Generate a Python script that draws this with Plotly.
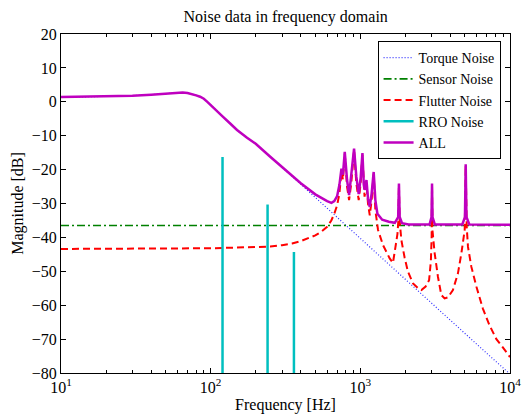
import plotly.graph_objects as go

# ---------------- data ----------------
torque_freq = [10, 20, 30, 40, 50, 60, 65, 70, 75, 80, 85, 90, 95, 100, 110, 120,
               135, 150, 175, 200, 250, 300, 400, 500, 600, 700, 1000, 2000, 3000,
               5000, 7000, 10000]
torque_db = [1.3, 1.5, 1.8, 2.1, 2.4, 2.7, 2.75, 2.6, 2.3, 1.9, 1.5, 0.9, 0.0,
             -1.0, -2.7, -4.3, -6.4, -8.3, -10.6, -12.4, -16.2, -19.3, -24.3, -28.2,
             -31.4, -34.1, -40.3, -52.3, -59.4, -68.3, -74.2, -80.3]

sensor_freq = [10, 10000]
sensor_db = [-36.5, -36.5]

flutter_freq = [10, 20, 40, 70, 100, 150, 200, 250, 300, 350, 400, 450, 500, 550,
                600, 640, 670, 700, 725, 748, 765, 787, 815, 841, 870, 908, 940,
                975, 1005, 1033, 1055, 1067, 1099, 1125, 1156, 1190, 1228, 1260,
                1313, 1418, 1571, 1652, 1714, 1770, 1795, 1811, 1830, 1880, 1977,
                2080, 2250, 2430, 2560, 2730, 2880, 2960, 2995, 3013, 3035, 3138,
                3300, 3475, 3656, 3850, 4156, 4490, 4732, 4980, 5058, 5140, 5240,
                5520, 5960, 6590, 7310, 8110, 8980, 10000]
flutter_db = [-43.4, -43.4, -43.3, -43.2, -43.2, -43.0, -42.9, -42.7, -42.3, -41.8,
              -41.1, -40.3, -39.4, -38.3, -36.9, -35.0, -33.0, -30.5, -27.0, -20.5,
              -23.0, -15.3, -25.0, -29.0, -24.0, -14.3, -24.0, -29.0, -24.0, -15.6,
              -26.0, -28.0, -24.0, -30.0, -33.5, -29.0, -21.2, -32.0, -37.8, -42.3,
              -46.2, -47.5, -43.0, -39.0, -35.0, -24.5, -35.0, -40.8, -46.0, -50.1,
              -53.6, -55.0, -55.5, -54.5, -52.6, -47.0, -40.0, -24.5, -38.0, -44.7,
              -51.6, -57.0, -58.0, -57.7, -55.5, -50.6, -44.7, -37.8, -18.8, -37.0,
              -42.8, -48.7, -54.5, -61.0, -66.0, -70.0, -72.5, -75.3]

rro_freq = [120, 240, 360]
rro_db = [-16.3, -30.3, -44.3]
rro_floor_db = -100

all_freq = [10, 20, 30, 40, 50, 60, 65, 70, 75, 80, 85, 90, 95, 100, 110, 120, 135,
            150, 175, 200, 250, 300, 400, 500, 560, 600, 641, 670, 700, 725, 748,
            765, 787, 815, 841, 870, 908, 940, 975, 1005, 1033, 1055, 1067, 1099,
            1125, 1156, 1190, 1228, 1260, 1300, 1400, 1550, 1700, 1790, 1811, 1832,
            1900, 2100, 2900, 2990, 3013, 3036, 3150, 4800, 5000, 5058, 5117, 5350,
            10000]
all_db = [1.4, 1.6, 1.8, 2.1, 2.4, 2.7, 2.75, 2.6, 2.3, 1.9, 1.5, 0.9, 0.0, -1.0,
          -2.7, -4.3, -6.4, -8.3, -10.6, -12.4, -16.2, -19.3, -24.0, -27.3, -28.6,
          -29.3, -29.8, -29.3, -27.8, -24.5, -19.7, -21.5, -14.8, -23.0, -27.5,
          -22.0, -13.8, -22.0, -27.2, -22.5, -15.1, -24.5, -26.0, -23.1, -28.5,
          -31.0, -27.0, -20.7, -29.0, -33.0, -34.8, -35.4, -35.7, -34.0, -24.1,
          -34.0, -35.8, -36.2, -36.2, -34.0, -24.1, -34.0, -36.2, -36.2, -34.0,
          -18.4, -34.0, -36.2, -36.3]

x_tick_vals = [10, 100, 1000, 10000]
x_tick_text = ["10<sup>1</sup>", "10<sup>2</sup>", "10<sup>3</sup>", "10<sup>4</sup>"]
y_tick_vals = [20, 10, 0, -10, -20, -30, -40, -50, -60, -70, -80]

# ---------------- figure ----------------
FONT = "Liberation Serif"
FS = 16

rro_x, rro_y = [], []
for f, v in zip(rro_freq, rro_db):
    rro_x += [f, f, None]
    rro_y += [rro_floor_db, v, None]

fig = go.Figure()
fig.add_trace(go.Scatter(x=torque_freq, y=torque_db, mode="lines", name="Torque Noise",
                         line=dict(color="#3030FF", width=1.2, dash="1px,2px")))
fig.add_trace(go.Scatter(x=sensor_freq, y=sensor_db, mode="lines", name="Sensor Noise",
                         line=dict(color="#008000", width=1.6, dash="8px,3px,2px,3px")))
fig.add_trace(go.Scatter(x=flutter_freq, y=flutter_db, mode="lines", name="Flutter Noise",
                         line=dict(color="#FF0000", width=2, dash="7px,4px")))
fig.add_trace(go.Scatter(x=rro_x, y=rro_y, mode="lines", name="RRO Noise",
                         line=dict(color="#00BFBF", width=2.5)))
fig.add_trace(go.Scatter(x=all_freq, y=all_db, mode="lines", name="ALL",
                         line=dict(color="#BF00BF", width=2.5)))

minor_vals = [m * d for d in (10, 100, 1000) for m in range(2, 10)]

fig.update_layout(
    width=528, height=414,
    margin=dict(l=61, r=17.5, t=33.5, b=41),
    paper_bgcolor="white", plot_bgcolor="white",
    font=dict(family=FONT, size=FS, color="black"),
    title=dict(text="Noise data in frequency domain", x=0.541, xanchor="center",
               y=0.961, yref="container", yanchor="middle",
               font=dict(family=FONT, size=FS, color="black")),
    showlegend=True,
    legend=dict(x=0.979, y=0.979, xanchor="right", yanchor="top",
                bgcolor="white", bordercolor="black", borderwidth=1,
                font=dict(family=FONT, size=14, color="black"),
                tracegroupgap=0, itemwidth=30),
)
fig.update_xaxes(
    type="log", range=[1, 4], tickvals=x_tick_vals, ticktext=x_tick_text,
    ticks="inside", ticklen=5, tickcolor="black", showline=True, linecolor="black",
    linewidth=1, mirror="ticks", showgrid=False, zeroline=False, automargin=False,
    tickfont=dict(family=FONT, size=FS),
    minor=dict(tickvals=minor_vals, ticks="inside", ticklen=3, tickcolor="black",
               showgrid=False),
    title=dict(text="Frequency [Hz]", font=dict(family=FONT, size=FS), standoff=5),
)
fig.update_yaxes(
    range=[-80, 20], tickvals=y_tick_vals, ticks="inside", ticklen=5,
    tickcolor="black", showline=True, linecolor="black", linewidth=1,
    mirror="ticks", showgrid=False, zeroline=False, automargin=False,
    tickfont=dict(family=FONT, size=FS),
    title=dict(text="Magnitude [dB]", font=dict(family=FONT, size=FS), standoff=4),
)

fig.write_html("out.html",
               config={"displayModeBar": False},
               post_script="document.body.style.margin='0px';"
                           "document.body.style.padding='0px';")
